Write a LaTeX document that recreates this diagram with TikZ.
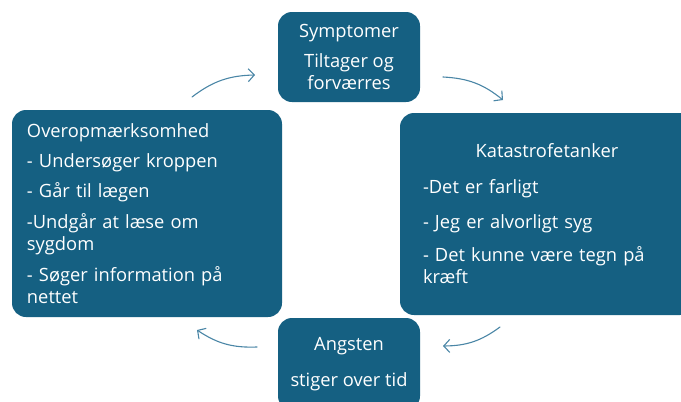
\documentclass[tikz,border=0pt]{standalone}
\usepackage{fontspec}
\setmainfont{Open Sans}
\usetikzlibrary{arrows.meta}
\definecolor{boxblue}{HTML}{156082}
\definecolor{arrowblue}{HTML}{4A86A6}
\begin{document}
\begin{tikzpicture} [
                x=1pt, y=-1pt,
                box/.style = {rounded corners=14pt, fill=boxblue, text=white, inner ysep=0pt,
                    font=\fontsize{18.3}{22}\selectfont},
                cycle arrow/.style = {draw=arrowblue, line width=1.1pt, line cap=round,
                    -{Straight Barb[length=6pt,width=13pt]}},
            ]
            \useasboundingbox (0,0) rectangle (681,402);
            % First we draw the four boxes
            \node[box, minimum width=142pt, minimum height=90pt, align=center] (symptom) at (349,57)
                {Symptomer\\[8pt]Tiltager og\\forværres};
            \node[box, text width=248pt, inner xsep=23pt, minimum height=202pt, align=left] (katastrofe) at (547,214)
                {\makebox[248pt]{Katastrofetanker}\\[14pt]-Det er farligt\\[13pt]- Jeg er alvorligt syg\\[11pt]- Det kunne være tegn på\\kræft};
            \node[box, minimum width=142pt, minimum height=92pt, align=center] (angst) at (349,364)
                {Angsten\\[14pt]stiger over tid};
            \node[box, text width=240pt, inner xsep=15pt, minimum height=207pt, align=left] (overop) at (147,213.5)
                {Overopmærksomhed\\[8pt]- Undersøger kroppen\\[8pt]- Går til lægen\\[9pt]-Undgår at læse om\\sygdom\\[9pt]- Søger information på\\nettet};
            % Free ends of the arrows
            \coordinate (a1) at (192,97);
            \coordinate (b1) at (255,75);
            \coordinate (a2) at (443,77);
            \coordinate (b2) at (503,100);
            \coordinate (a3) at (500,327);
            \coordinate (b3) at (443,346);
            \coordinate (a4) at (257,347);
            \coordinate (b4) at (197,330);
            % Connect the boxes clockwise
            \draw[cycle arrow] (a1) to[bend left=18] (b1);
            \draw[cycle arrow] (a2) to[bend left=18] (b2);
            \draw[cycle arrow] (a3) to[bend left=18] (b3);
            \draw[cycle arrow] (a4) to[bend left=18] (b4);
        \end{tikzpicture}
\end{document}
